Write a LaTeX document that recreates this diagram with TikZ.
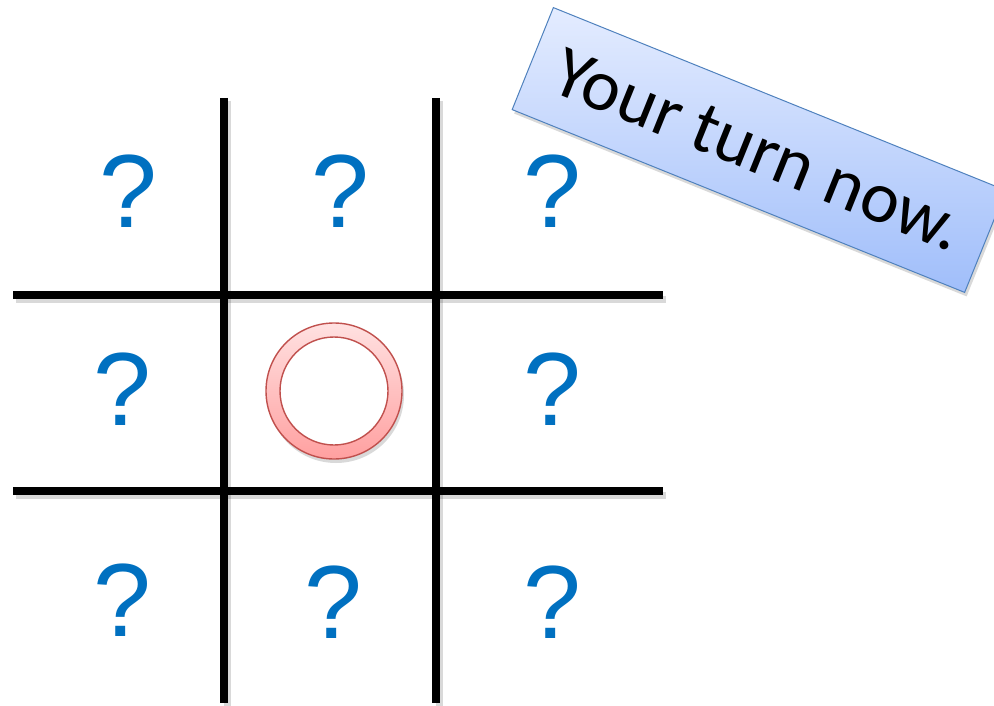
\documentclass[tikz,border=0pt]{standalone}
\usepackage{fontspec}
\newfontfamily\qfont{Liberation Sans}
\newfontfamily\labfont{Carlito}
\usetikzlibrary{shadows}
\definecolor{qblue}{RGB}{0,112,192}
\definecolor{ringedge}{RGB}{192,80,77}
\definecolor{boxedge}{RGB}{79,129,189}
\tikzset{
  gridline/.style={line width=7.5pt, black},
  gridshadow/.style={line width=7pt, black, opacity=0.15},
  qmark/.style={text=qblue, font=\qfont\fontsize{104}{104}\selectfont, anchor=base, inner sep=0pt},
  ringouter/.style={circle, minimum size=136pt, inner sep=0pt, draw=ringedge, line width=1.4pt,
     top color={rgb,255:red,255;green,225;blue,225}, bottom color={rgb,255:red,255;green,160;blue,160},
     drop shadow={opacity=0.3, shadow xshift=2pt, shadow yshift=-4pt}},
  ringinner/.style={circle, minimum size=108pt, inner sep=0pt, draw=ringedge, line width=1.4pt, fill=white},
  turnbox/.style={rectangle, minimum width=488pt, minimum height=110pt, inner sep=0pt, draw=boxedge, line width=1pt,
     top color={rgb,255:red,228;green,236;blue,255}, bottom color={rgb,255:red,160;green,190;blue,250},
     drop shadow={opacity=0.3, shadow xshift=2pt, shadow yshift=-4pt},
     font=\labfont\fontsize{73}{73}\selectfont}
}
\begin{document}
\begin{tikzpicture}[x=1pt,y=-1pt]
\useasboundingbox (0,0) rectangle (994,706);
% grid shadows
\draw[gridshadow] (227,101) -- (227,706);
\draw[gridshadow] (439,101) -- (439,706);
\draw[gridshadow] (16,299) -- (666,299);
\draw[gridshadow] (16,495) -- (666,495);
% grid
\draw[gridline] (224,98) -- (224,703);
\draw[gridline] (436,98) -- (436,703);
\draw[gridline] (13,295) -- (663,295);
\draw[gridline] (13,491) -- (663,491);
% question marks
\node[qmark] (q11) at (128,227) {?};
\node[qmark] (q12) at (340,227) {?};
\node[qmark] (q13) at (552,227) {?};
\node[qmark] (q21) at (122,425) {?};
\node[qmark] (q23) at (552,425) {?};
\node[qmark] (q31) at (122,636) {?};
\node[qmark] (q32) at (333,638) {?};
\node[qmark] (q33) at (552,638) {?};
% ring
\node[ringouter] (ring) at (334,391) {};
\node[ringinner] (hole) at (334,391) {};
% label
\node[turnbox, rotate=-22] (turn) at (759,150) {Your turn now.};
\end{tikzpicture}
\end{document}
